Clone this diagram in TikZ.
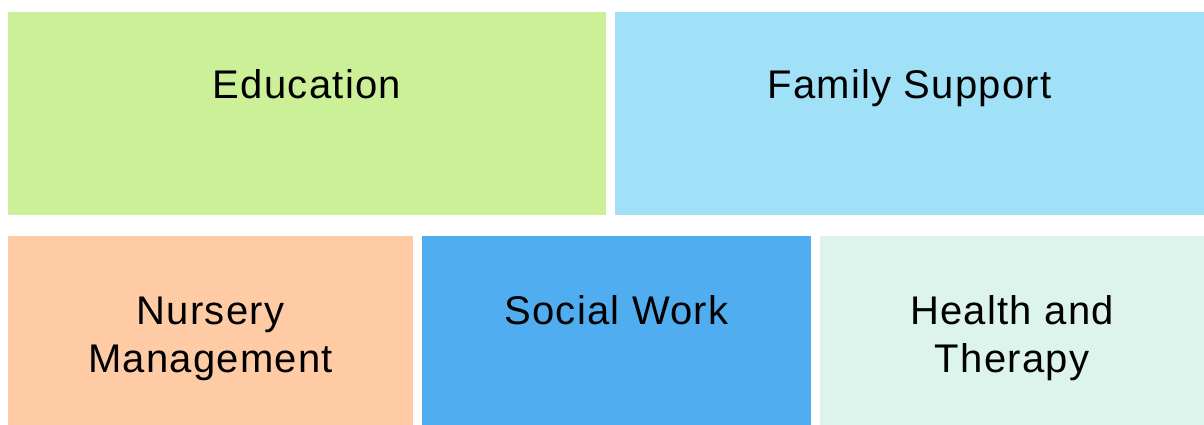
\documentclass[tikz,border=0pt]{standalone}
\usepackage{fontspec}
\newfontfamily\lblfont{Liberation Sans}[LetterSpace=3.2]
\definecolor{cEdu}{HTML}{CCF097}
\definecolor{cFam}{HTML}{A0E1F8}
\definecolor{cNur}{HTML}{FFCBA4}
\definecolor{cSoc}{HTML}{50ADF0}
\definecolor{cHea}{HTML}{DDF4EC}
\begin{document}
\begin{tikzpicture}[x=1pt,y=-1pt,
  tile/.style={draw=none, inner sep=0pt, outer sep=0pt, anchor=north west},
  lbl/.style={inner sep=0pt, anchor=base, align=center, text=black,
    font=\lblfont\fontsize{40}{48}\selectfont}]
\useasboundingbox (0,0) rectangle (1204,425);
\fill[white] (0,0) rectangle (1204,425);
\node[tile, fill=cEdu, minimum width=598pt, minimum height=203pt] (edu) at (8,12) {};
\node[tile, fill=cFam, minimum width=589pt, minimum height=203pt] (fam) at (615,12) {};
\node[tile, fill=cNur, minimum width=405pt, minimum height=189pt] (nur) at (8,236) {};
\node[tile, fill=cSoc, minimum width=389pt, minimum height=189pt] (soc) at (422,236) {};
\node[tile, fill=cHea, minimum width=384pt, minimum height=189pt] (hea) at (820,236) {};
\node[lbl] (tedu) at ([yshift=-86.3pt]edu.north) {Education};
\node[lbl] (tfam) at ([yshift=-86.3pt]fam.north) {Family Support};
\node[lbl] (tnur) at ([yshift=-136.3pt]nur.north) {Nursery\\Management};
\node[lbl] (tsoc) at ([yshift=-88pt]soc.north) {Social Work};
\node[lbl] (thea) at ([yshift=-136.3pt]hea.north) {Health and\\Therapy};
\end{tikzpicture}
\end{document}
